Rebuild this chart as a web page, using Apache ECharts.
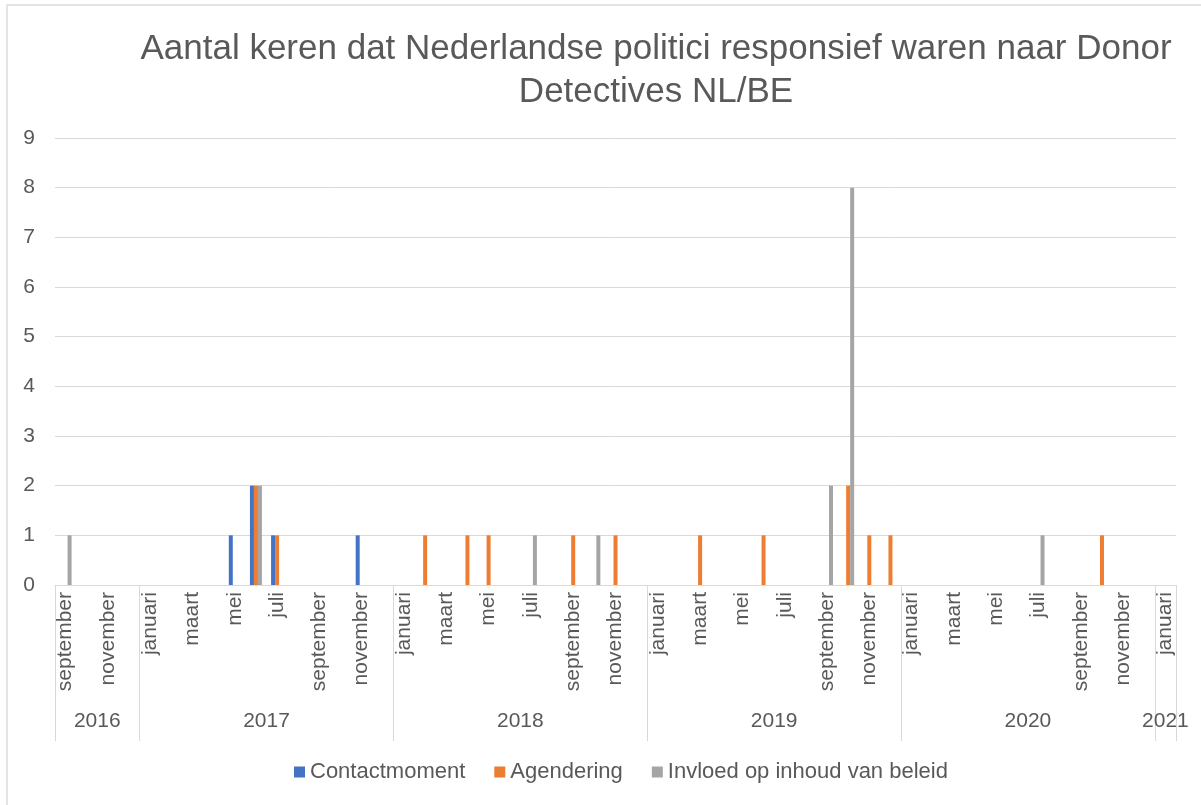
<!DOCTYPE html>
<html>
<head>
<meta charset="utf-8">
<script src="https://cdn.jsdelivr.net/npm/echarts@6/dist/echarts.min.js"></script>
<style>
	html, body { margin: 0; padding: 0; background: #fff; }
	#chart { width: 1201px; height: 805px; }
</style>
</head>
<body>
<div id="chart"></div>
<script>
	// maanden van september 2016 t/m januari 2021
	var monthNames = [ 'januari', 'februari', 'maart', 'april', 'mei', 'juni', 'juli', 'augustus',
			'september', 'oktober', 'november', 'december' ];
	var firstYear = 2016, firstMonth = 8, monthCount = 53;

	// aantallen per maand, per jaar opgedeeld (2016 begint in september, 2021 alleen januari)
	var contactmoment = [].concat(
		[ 0, 0, 0, 0 ],
		[ 0, 0, 0, 0, 1, 2, 1, 0, 0, 0, 1, 0 ],
		[ 0, 0, 0, 0, 0, 0, 0, 0, 0, 0, 0, 0 ],
		[ 0, 0, 0, 0, 0, 0, 0, 0, 0, 0, 0, 0 ],
		[ 0, 0, 0, 0, 0, 0, 0, 0, 0, 0, 0, 0 ],
		[ 0 ]);
	var agendering = [].concat(
		[ 0, 0, 0, 0 ],
		[ 0, 0, 0, 0, 0, 2, 1, 0, 0, 0, 0, 0 ],
		[ 0, 1, 0, 1, 1, 0, 0, 0, 1, 0, 1, 0 ],
		[ 0, 0, 1, 0, 0, 1, 0, 0, 0, 2, 1, 1 ],
		[ 0, 0, 0, 0, 0, 0, 0, 0, 0, 1, 0, 0 ],
		[ 0 ]);
	var invloed = [].concat(
		[ 1, 0, 0, 0 ],
		[ 0, 0, 0, 0, 0, 2, 0, 0, 0, 0, 0, 0 ],
		[ 0, 0, 0, 0, 0, 0, 1, 0, 0, 1, 0, 0 ],
		[ 0, 0, 0, 0, 0, 0, 0, 0, 2, 8, 0, 0 ],
		[ 0, 0, 0, 0, 0, 0, 1, 0, 0, 0, 0, 0 ],
		[ 0 ]);

	var yearLabels = [ '2016', '2017', '2018', '2019', '2020', '2021' ];
	var yearCenters = [ 2, 10, 22, 34, 46, 52.5 ]; // in maanden vanaf september 2016
	var yearBorders = [ 0, 4, 16, 28, 40, 52, 53 ];

	var seriesNames = [ 'Contactmoment', 'Agendering', 'Invloed op inhoud van beleid' ];
	var colors = [ '#4472C4', '#ED7D31', '#A5A5A5' ];

	var months = [];
	for (var i = 0; i < monthCount; i++) {
		months.push(monthNames[(firstMonth + i) % 12]);
	}

	var textColor = '#595959';
	var lineColor = '#d9d9d9';
	var font = 'Liberation Sans, Arial, Helvetica, sans-serif';

	var chart = echarts.init(document.getElementById('chart'));
	var option = {
		animation : false,
		color : colors,
		textStyle : {
			fontFamily : font
		},
		title : {
			text : 'Aantal keren dat Nederlandse politici responsief waren naar Donor\nDetectives NL/BE',
			left : 651,
			top : 23,
			textAlign : 'center',
			textStyle : {
				color : textColor,
				fontSize : 35,
				fontWeight : 'normal',
				lineHeight : 43,
				fontFamily : font
			}
		},
		legend : {
			left : 289,
			top : 756,
			itemWidth : 11,
			itemHeight : 11,
			itemGap : 29,
			icon : 'rect',
			textStyle : {
				color : textColor,
				fontSize : 22
			},
			data : seriesNames
		},
		grid : {
			left : 55,
			right : 25,
			top : 138,
			bottom : 220
		},
		xAxis : [ {
			type : 'category',
			data : months,
			position : 'bottom',
			boundaryGap : true,
			axisLine : {
				lineStyle : {
					color : lineColor
				}
			},
			axisTick : {
				show : false
			},
			axisLabel : {
				interval : 1,
				rotate : 90,
				margin : 7,
				color : textColor,
				fontSize : 21
			}
		}, {
			type : 'value',
			position : 'bottom',
			min : 0,
			max : monthCount,
			axisLine : {
				show : false
			},
			splitLine : {
				show : false
			},
			axisTick : {
				show : true,
				customValues : yearBorders,
				length : 156,
				lineStyle : {
					color : lineColor
				}
			},
			axisLabel : {
				customValues : yearCenters,
				margin : 126,
				color : textColor,
				fontSize : 21,
				formatter : function(value) {
					var idx = yearCenters.indexOf(value);
					return idx >= 0 ? yearLabels[idx] : '';
				}
			}
		} ],
		yAxis : {
			type : 'value',
			min : 0,
			max : 9,
			interval : 1,
			axisLine : {
				show : false
			},
			axisTick : {
				show : false
			},
			axisLabel : {
				margin : 20,
				color : textColor,
				fontSize : 21
			},
			splitLine : {
				lineStyle : {
					color : lineColor
				}
			}
		},
		graphic : [ {
			type : 'polyline',
			shape : {
				points : [ [ 7, 805 ], [ 7, 5 ], [ 1201, 5 ] ]
			},
			style : {
				stroke : '#e3e3e3',
				lineWidth : 2,
				fill : null
			}
		} ],
		series : []
	};

	[ contactmoment, agendering, invloed ].forEach(function(values, idx) {
		option.series.push({
			name : seriesNames[idx],
			type : 'bar',
			xAxisIndex : 0,
			barWidth : 4,
			barGap : '0%',
			data : values
		});
	});

	chart.setOption(option);
</script>
</body>
</html>
